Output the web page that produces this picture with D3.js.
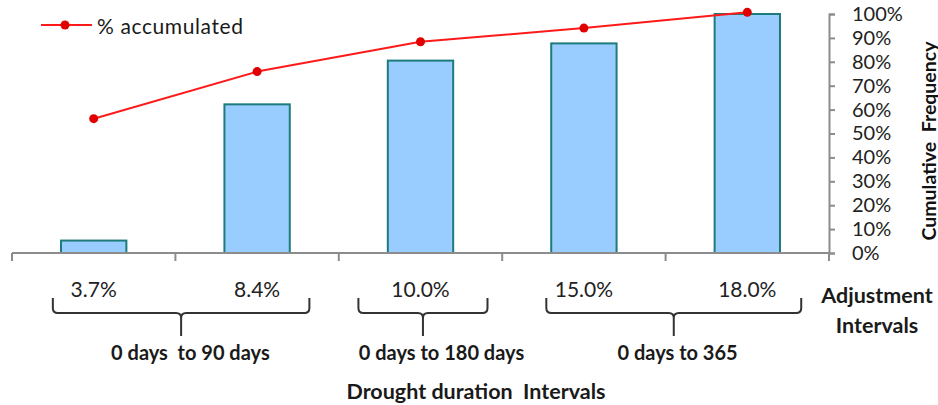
<!DOCTYPE html>
<html>
<head>
<meta charset="utf-8">
<script src="https://cdn.jsdelivr.net/npm/d3@7/dist/d3.min.js"></script>
<style>
  html, body { margin: 0; padding: 0; background: #fff; }
  svg { display: block; font-family: Lato, "Open Sans", sans-serif; }
</style>
</head>
<body>
<div id="chart"></div>
<script>
// ---- data ----
const categories = ["3.7%", "8.4%", "10.0%", "15.0%", "18.0%"];
const barValues = [5.2, 62.2, 80.5, 87.7, 100];
const accumulated = [56.2, 75.9, 88.4, 94.1, 100.7];
const yTicks = [0, 10, 20, 30, 40, 50, 60, 70, 80, 90, 100];
const groupLabels = ["0 days  to 90 days", "0 days to 180 days", "0 days to 365"];
const groupFirst = [0, 2, 3];
const groupLast = [1, 2, 4];
const legendLabel = "% accumulated";
const xTitle = "Drought duration  Intervals";
const xSideTitle = ["Adjustment", "Intervals"];
const yTitle = "Cumulative  Frequency";

// ---- layout ----
const W = 938, H = 405;
const plotLeft = 12, plotRight = 829, plotTop = 14, plotBase = 253;
// brace extents in category-index units (from drawn figure)
const braceFrom = [0.25, 2.12, 3.27];
const braceTo = [1.82, 2.91, 4.83];
const labelShift = [15, 21, 12];

const svg = d3.select("#chart").append("svg").attr("width", W).attr("height", H);

const x = d3.scaleBand().domain(categories).range([plotLeft, plotRight])
  .paddingInner(0.6).paddingOuter(0.3);
const idx = d3.scaleLinear().domain([0, categories.length]).range([plotLeft, plotRight]);
const y = d3.scaleLinear().domain([0, 100]).range([plotBase, plotTop]);
const cx = d => x(d) + x.bandwidth() / 2;

// bars
svg.append("g").selectAll("rect").data(categories).join("rect")
  .attr("x", d => x(d))
  .attr("y", (d, i) => y(barValues[i]))
  .attr("width", x.bandwidth())
  .attr("height", (d, i) => plotBase - y(barValues[i]))
  .attr("fill", "#99ccff")
  .attr("stroke", "#1e7b7b")
  .attr("stroke-width", 2);

// x axis line & category boundary ticks
const gx = svg.append("g");
gx.append("line").attr("x1", plotLeft).attr("x2", plotRight).attr("y1", plotBase).attr("y2", plotBase)
  .attr("stroke", "#8c8c8c").attr("stroke-width", 2);
gx.selectAll("line.tk").data(d3.range(categories.length + 1)).join("line")
  .attr("class", "tk")
  .attr("x1", i => idx(i)).attr("x2", i => idx(i))
  .attr("y1", plotBase).attr("y2", plotBase + 8)
  .attr("stroke", "#8c8c8c").attr("stroke-width", 2);
gx.selectAll("text").data(categories).join("text")
  .attr("x", d => cx(d)).attr("y", 288)
  .attr("text-anchor", "middle").attr("dominant-baseline", "central")
  .attr("font-size", 21).attr("fill", "#222")
  .text(d => d);

// right axis
const yAxis = d3.axisRight(y).tickValues(yTicks).tickFormat(d => d + "%").tickSize(6).tickPadding(17);
const gy = svg.append("g").attr("transform", `translate(${plotRight},0)`).call(yAxis);
gy.select(".domain").attr("stroke", "#8c8c8c").attr("stroke-width", 2);
gy.selectAll(".tick line").attr("stroke", "#8c8c8c").attr("stroke-width", 2);
gy.selectAll(".tick text").attr("font-size", 20).attr("fill", "#222")
  .attr("font-family", "Lato, 'Open Sans', sans-serif");

// accumulated line
const line = d3.line().x((d, i) => cx(categories[i])).y(d => y(d));
svg.append("path").datum(accumulated)
  .attr("d", line).attr("fill", "none").attr("stroke", "#ff1a1a").attr("stroke-width", 2);
svg.append("g").selectAll("circle").data(accumulated).join("circle")
  .attr("cx", (d, i) => cx(categories[i])).attr("cy", d => y(d))
  .attr("r", 4.5).attr("fill", "#e00000");

// legend
const lg = svg.append("g");
lg.append("line").attr("x1", 41).attr("x2", 92).attr("y1", 25).attr("y2", 25)
  .attr("stroke", "#ff1a1a").attr("stroke-width", 2);
lg.append("circle").attr("cx", 65).attr("cy", 25).attr("r", 4.5).attr("fill", "#e00000");
lg.append("text").attr("x", 97).attr("y", 25).attr("dominant-baseline", "central")
  .attr("font-size", 21).attr("letter-spacing", 0.6).attr("fill", "#1a1a1a").text(legendLabel);

// braces
const bTop = 298, bMid = 313, bBot = 336, r = 5;
const bg = svg.append("g");
groupLabels.forEach((lab, i) => {
  const L = idx(braceFrom[i]), R = idx(braceTo[i]), M = (L + R) / 2;
  const p = `M${L},${bTop} V${bMid - r} Q${L},${bMid} ${L + r},${bMid} H${M - r} Q${M},${bMid} ${M},${bMid + r} V${bBot}
             M${M},${bMid + r} Q${M},${bMid} ${M + r},${bMid} H${R - r} Q${R},${bMid} ${R},${bMid - r} V${bTop}`;
  bg.append("path").attr("d", p).attr("fill", "none").attr("stroke", "#333").attr("stroke-width", 2);
  bg.append("text").attr("x", (cx(categories[groupFirst[i]]) + cx(categories[groupLast[i]])) / 2 + labelShift[i])
    .attr("y", 352).attr("text-anchor", "middle").attr("dominant-baseline", "central")
    .attr("font-size", 20).attr("font-weight", "bold").attr("fill", "#1a1a1a")
    .style("white-space", "pre").text(lab);
});

// titles
svg.append("text").attr("x", 476).attr("y", 391).attr("text-anchor", "middle")
  .attr("dominant-baseline", "central").attr("font-size", 21.5).attr("font-weight", "bold")
  .attr("fill", "#1a1a1a").style("white-space", "pre").text(xTitle);
svg.append("text").attr("text-anchor", "middle").attr("font-size", 21.5).attr("font-weight", "bold")
  .attr("fill", "#1a1a1a")
  .selectAll("tspan").data(xSideTitle).join("tspan")
  .attr("x", 877).attr("y", (d, i) => 295 + i * 30).attr("dominant-baseline", "central").text(d => d);
svg.append("text").attr("transform", "translate(928,141) rotate(-90)")
  .attr("text-anchor", "middle").attr("dominant-baseline", "central")
  .attr("font-size", 19.5).attr("font-weight", "bold").attr("fill", "#111")
  .style("white-space", "pre").text(yTitle);
</script>
</body>
</html>
